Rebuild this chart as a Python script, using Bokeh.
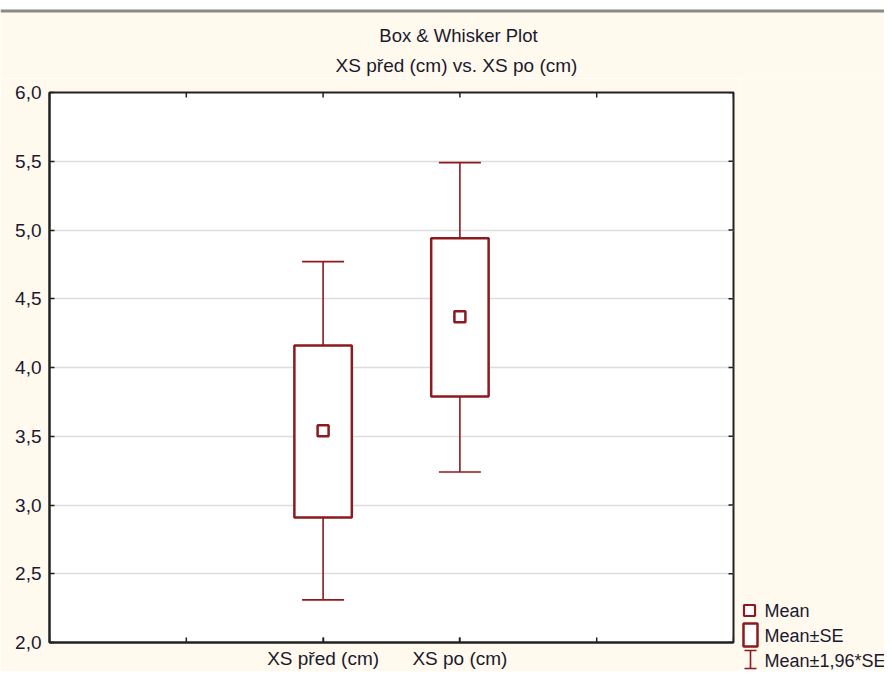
import math
from bokeh.plotting import figure
from bokeh.layouts import column, row
from bokeh.models import BoxAnnotation, ColumnDataSource, FixedTicker, Range1d
from bokeh.core.properties import value
from bokeh.embed import file_html
from bokeh.resources import INLINE

# ---------------- data ----------------
categories = ["XS před (cm)", "XS po (cm)"]
mean_vals = [3.54, 4.37]
se_low = [2.91, 3.79]
se_high = [4.16, 4.94]
ci_low = [2.31, 3.24]
ci_high = [4.77, 5.49]
y_ticks = [2.0, 2.5, 3.0, 3.5, 4.0, 4.5, 5.0, 5.5, 6.0]
y_tick_labels = ["2,0", "2,5", "3,0", "3,5", "4,0", "4,5", "5,0", "5,5", "6,0"]
x_slots = [0, 1, 2, 3, 4, 5]
title_text = "Box & Whisker Plot"
subtitle_text = "XS před (cm) vs. XS po (cm)"
legend_labels = ["Mean", "Mean±SE", "Mean±1,96*SE"]

RED = "#8C1A1E"
CREAM = "#FFF9EE"
FONT = "Liberation Sans"
INK = "#1a1a2e"
AX = "#222222"

# categories sit on slots 2 and 3 of a 0..5 axis
xs = [i + 2 for i in range(len(categories))]
src = ColumnDataSource(dict(x=xs, mean=mean_vals, se_lo=se_low, se_hi=se_high,
                            ci_lo=ci_low, ci_hi=ci_high))

# ---------------- header: rule + titles ----------------
hd = figure(width=884, height=78, output_backend="svg", toolbar_location=None,
            x_range=Range1d(0, 884), y_range=Range1d(78, 0),
            x_axis_type=None, y_axis_type=None, min_border=0,
            background_fill_color=CREAM, border_fill_color=CREAM)
hd.outline_line_color = None
hd.grid.visible = False
hd.add_layout(BoxAnnotation(top=0, bottom=9, fill_color="white", fill_alpha=1, line_alpha=0))
hd.add_layout(BoxAnnotation(top=9, bottom=12, fill_color="#8a8a8a", fill_alpha=1, line_alpha=0))
hd.text(x=[458], y=[35], text=[title_text], text_font=value(FONT), text_font_size="18.5px",
        text_align="center", text_baseline="middle", text_color=INK)
hd.text(x=[456], y=[65], text=[subtitle_text], text_font=value(FONT), text_font_size="19px",
        text_align="center", text_baseline="middle", text_color=INK)

# ---------------- main plot ----------------
p = figure(frame_width=684, frame_height=550,
           x_range=Range1d(x_slots[0], x_slots[-1]), y_range=Range1d(y_ticks[0], y_ticks[-1]),
           output_backend="svg", toolbar_location=None,
           min_border_left=49, min_border_right=7, min_border_top=14, min_border_bottom=28,
           background_fill_color="white", border_fill_color=CREAM)

p.xgrid.visible = False
p.ygrid.ticker = FixedTicker(ticks=y_ticks)
p.ygrid.grid_line_color = "#dcdcdc"
p.ygrid.grid_line_width = 1.5
p.outline_line_color = AX
p.outline_line_width = 2

xa = p.xaxis[0]
xa.ticker = FixedTicker(ticks=xs)
xa.major_label_overrides = {x: c for x, c in zip(xs, categories)}
ya = p.yaxis[0]
ya.ticker = FixedTicker(ticks=y_ticks)
ya.major_label_overrides = {t: l for t, l in zip(y_ticks, y_tick_labels)}

for ax in (xa, ya):
    ax.axis_line_color = AX
    ax.axis_line_width = 2
    ax.major_tick_in = 5
    ax.major_tick_out = 0
    ax.major_tick_line_color = AX
    ax.major_tick_line_width = 1.5
    ax.minor_tick_line_color = None
    ax.major_label_text_font = FONT
    ax.major_label_text_font_size = "19px"
    ax.major_label_text_color = INK
xa.major_label_standoff = 5
ya.major_label_standoff = 8

# inward tick marks along the frame (clipped to the frame, half of each dash shows)
n_x, n_y = len(x_slots), len(y_ticks)
p.scatter(x=x_slots, y=[y_ticks[0]] * n_x, marker="dash", angle=math.pi / 2, size=10,
          line_color=AX, line_width=1.5)
p.scatter(x=x_slots, y=[y_ticks[-1]] * n_x, marker="dash", angle=math.pi / 2, size=10,
          line_color=AX, line_width=1.5)
p.scatter(x=[x_slots[-1]] * n_y, y=y_ticks, marker="dash", size=10,
          line_color=AX, line_width=1.5)

p.segment(x0="x", y0="ci_lo", x1="x", y1="ci_hi", source=src, line_color=RED, line_width=1.6)
p.scatter(x="x", y="ci_hi", source=src, marker="dash", size=42, line_color=RED, line_width=1.6)
p.scatter(x="x", y="ci_lo", source=src, marker="dash", size=42, line_color=RED, line_width=1.6)
p.vbar(x="x", width=0.42, bottom="se_lo", top="se_hi", source=src,
       fill_color="white", line_color=RED, line_width=2.5)
p.scatter(x="x", y="mean", source=src, marker="square", size=11,
          fill_color="white", line_color=RED, line_width=2.5)

# ---------------- legend panel ----------------
lg = figure(width=144, height=592, frame_width=144, frame_height=592,
            output_backend="svg", toolbar_location=None,
            x_range=Range1d(0, 144), y_range=Range1d(592, 0),
            x_axis_type=None, y_axis_type=None, min_border=0,
            background_fill_color=CREAM, border_fill_color=CREAM)
lg.outline_line_color = None
lg.grid.visible = False
lg.scatter(x=[9], y=[532], marker="square", size=11, fill_color="white",
           line_color=RED, line_width=2.2)
lg.rect(x=[10], y=[556.5], width=14, height=23, fill_color="white",
        line_color=RED, line_width=2.5)
lg.segment(x0=[10], y0=[572], x1=[10], y1=[590], line_color=RED, line_width=1.6)
lg.segment(x0=[4, 4], y0=[572, 590], x1=[16, 16], y1=[572, 590], line_color=RED, line_width=1.6)
lg.text(x=[24, 24, 24], y=[532, 557, 582], text=legend_labels, text_font=value(FONT),
        text_font_size="18px", text_baseline="middle", text_color=INK)

layout = column(hd, row(p, column(lg)), spacing=0)

open("out.html", "w").write(file_html(layout, INLINE))
